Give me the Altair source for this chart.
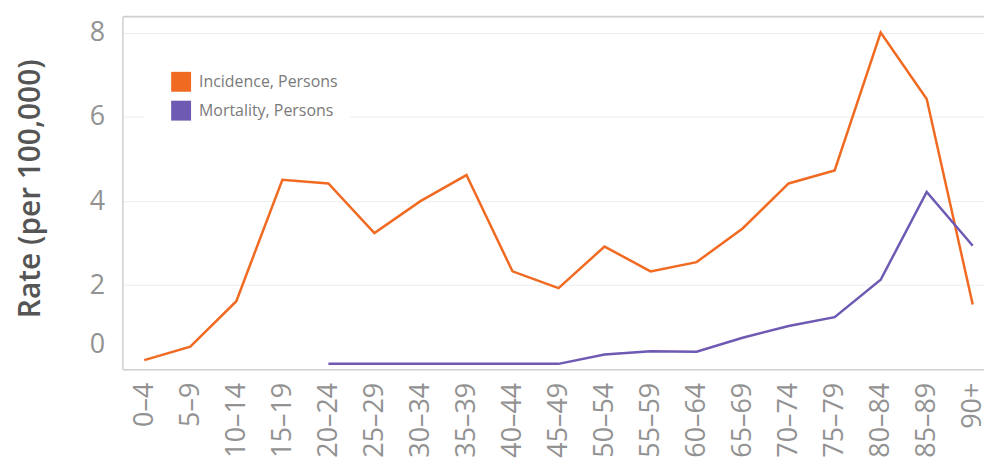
import altair as alt
import pandas as pd

ages = ["0–4", "5–9", "10–14", "15–19", "20–24", "25–29", "30–34", "35–39",
        "40–44", "45–49", "50–54", "55–59", "60–64", "65–69", "70–74",
        "75–79", "80–84", "85–89", "90+"]
incidence = [0.22, 0.54, 1.62, 4.51, 4.42, 3.24, 4.0, 4.62, 2.33, 1.93,
             2.92, 2.33, 2.55, 3.35, 4.42, 4.73, 8.01, 6.43, 1.54]
mortality = [None, None, None, None, 0.13, 0.13, 0.13, 0.13, 0.13, 0.13,
             0.35, 0.43, 0.42, 0.75, 1.03, 1.24, 2.13, 4.22, 2.94]
series = ["Incidence, Persons", "Mortality, Persons"]
colors = ["#F06A22", "#6E5AB3"]
y_ticks = [0, 2, 4, 6, 8, 8.4]

rows = []
for a, v in zip(ages, incidence):
    rows.append({"age": a, "series": series[0], "rate": v})
for a, v in zip(ages, mortality):
    if v is not None:
        rows.append({"age": a, "series": series[1], "rate": v})
df = pd.DataFrame(rows)

FONT = "Open Sans"

x_enc = alt.X("age:N", sort=ages, title=None,
              scale=alt.Scale(type="point", padding=0.36, align=0.66),
              axis=alt.Axis(labelAngle=-90, labelFontSize=27, labelColor="#929292",
                            labelFont=FONT, labelPadding=13, ticks=False,
                            domain=True, domainColor="#d0d0d0", domainWidth=1.5,
                            grid=False, labelOverlap=False))
y_enc = alt.Y("rate:Q", title="Rate (per 100,000)",
              scale=alt.Scale(domain=[0, 8.4], nice=False, zero=True),
              axis=alt.Axis(values=y_ticks,
                            labelExpr="datum.value > 8.3 ? '' : datum.label",
                            labelFontSize=27, labelColor="#929292", labelFont=FONT,
                            labelPadding=18, ticks=False,
                            labelOffset={"condition": {"test": "datum.value === 0", "value": -25}, "value": 0},
                            domain=True, domainColor="#d0d0d0", domainWidth=1.5,
                            grid=True,
                            gridColor={"condition": {"test": "datum.value > 8.3", "value": "#cfcfcf"}, "value": "#ededed"},
                            gridWidth={"condition": {"test": "datum.value > 8.3", "value": 2}, "value": 1},
                            titleFontSize=30, titleFontWeight=600, titleColor="#555555",
                            titleFont=FONT, titleAngle=-90, titleBaseline="alphabetic",
                            titleAlign="center", titleX=-83, titleY=173))
legend = alt.Legend(orient="none", legendX=22, legendY=44, title=None,
                    symbolType="square", symbolSize=400,
                    symbolStrokeWidth=0, labelFontSize=16,
                    labelColor="#7a7a7a", labelFont=FONT,
                    fillColor="white", padding=12, symbolOffset=15,
                    labelOffset=8)
color_enc = alt.Color("series:N", scale=alt.Scale(domain=series, range=colors),
                      legend=legend)

legend_pts = alt.Chart(df).transform_filter("false").mark_point(
    shape="square", filled=True, size=400, opacity=1
).encode(x=x_enc, y=y_enc, color=color_enc)

lines = alt.Chart(df).mark_line(strokeWidth=2.5).encode(
    x=x_enc, y=y_enc, color=color_enc,
)

chart = alt.layer(legend_pts, lines).properties(
    width=866, height=355,
    padding={"left": 115, "top": 7, "right": 0, "bottom": 96},
    autosize=alt.AutoSizeParams(type="none"),
).configure_view(stroke=None).configure_legend(rowPadding=9)

chart.save("out.html", embed_options={"renderer": "svg", "actions": False})
